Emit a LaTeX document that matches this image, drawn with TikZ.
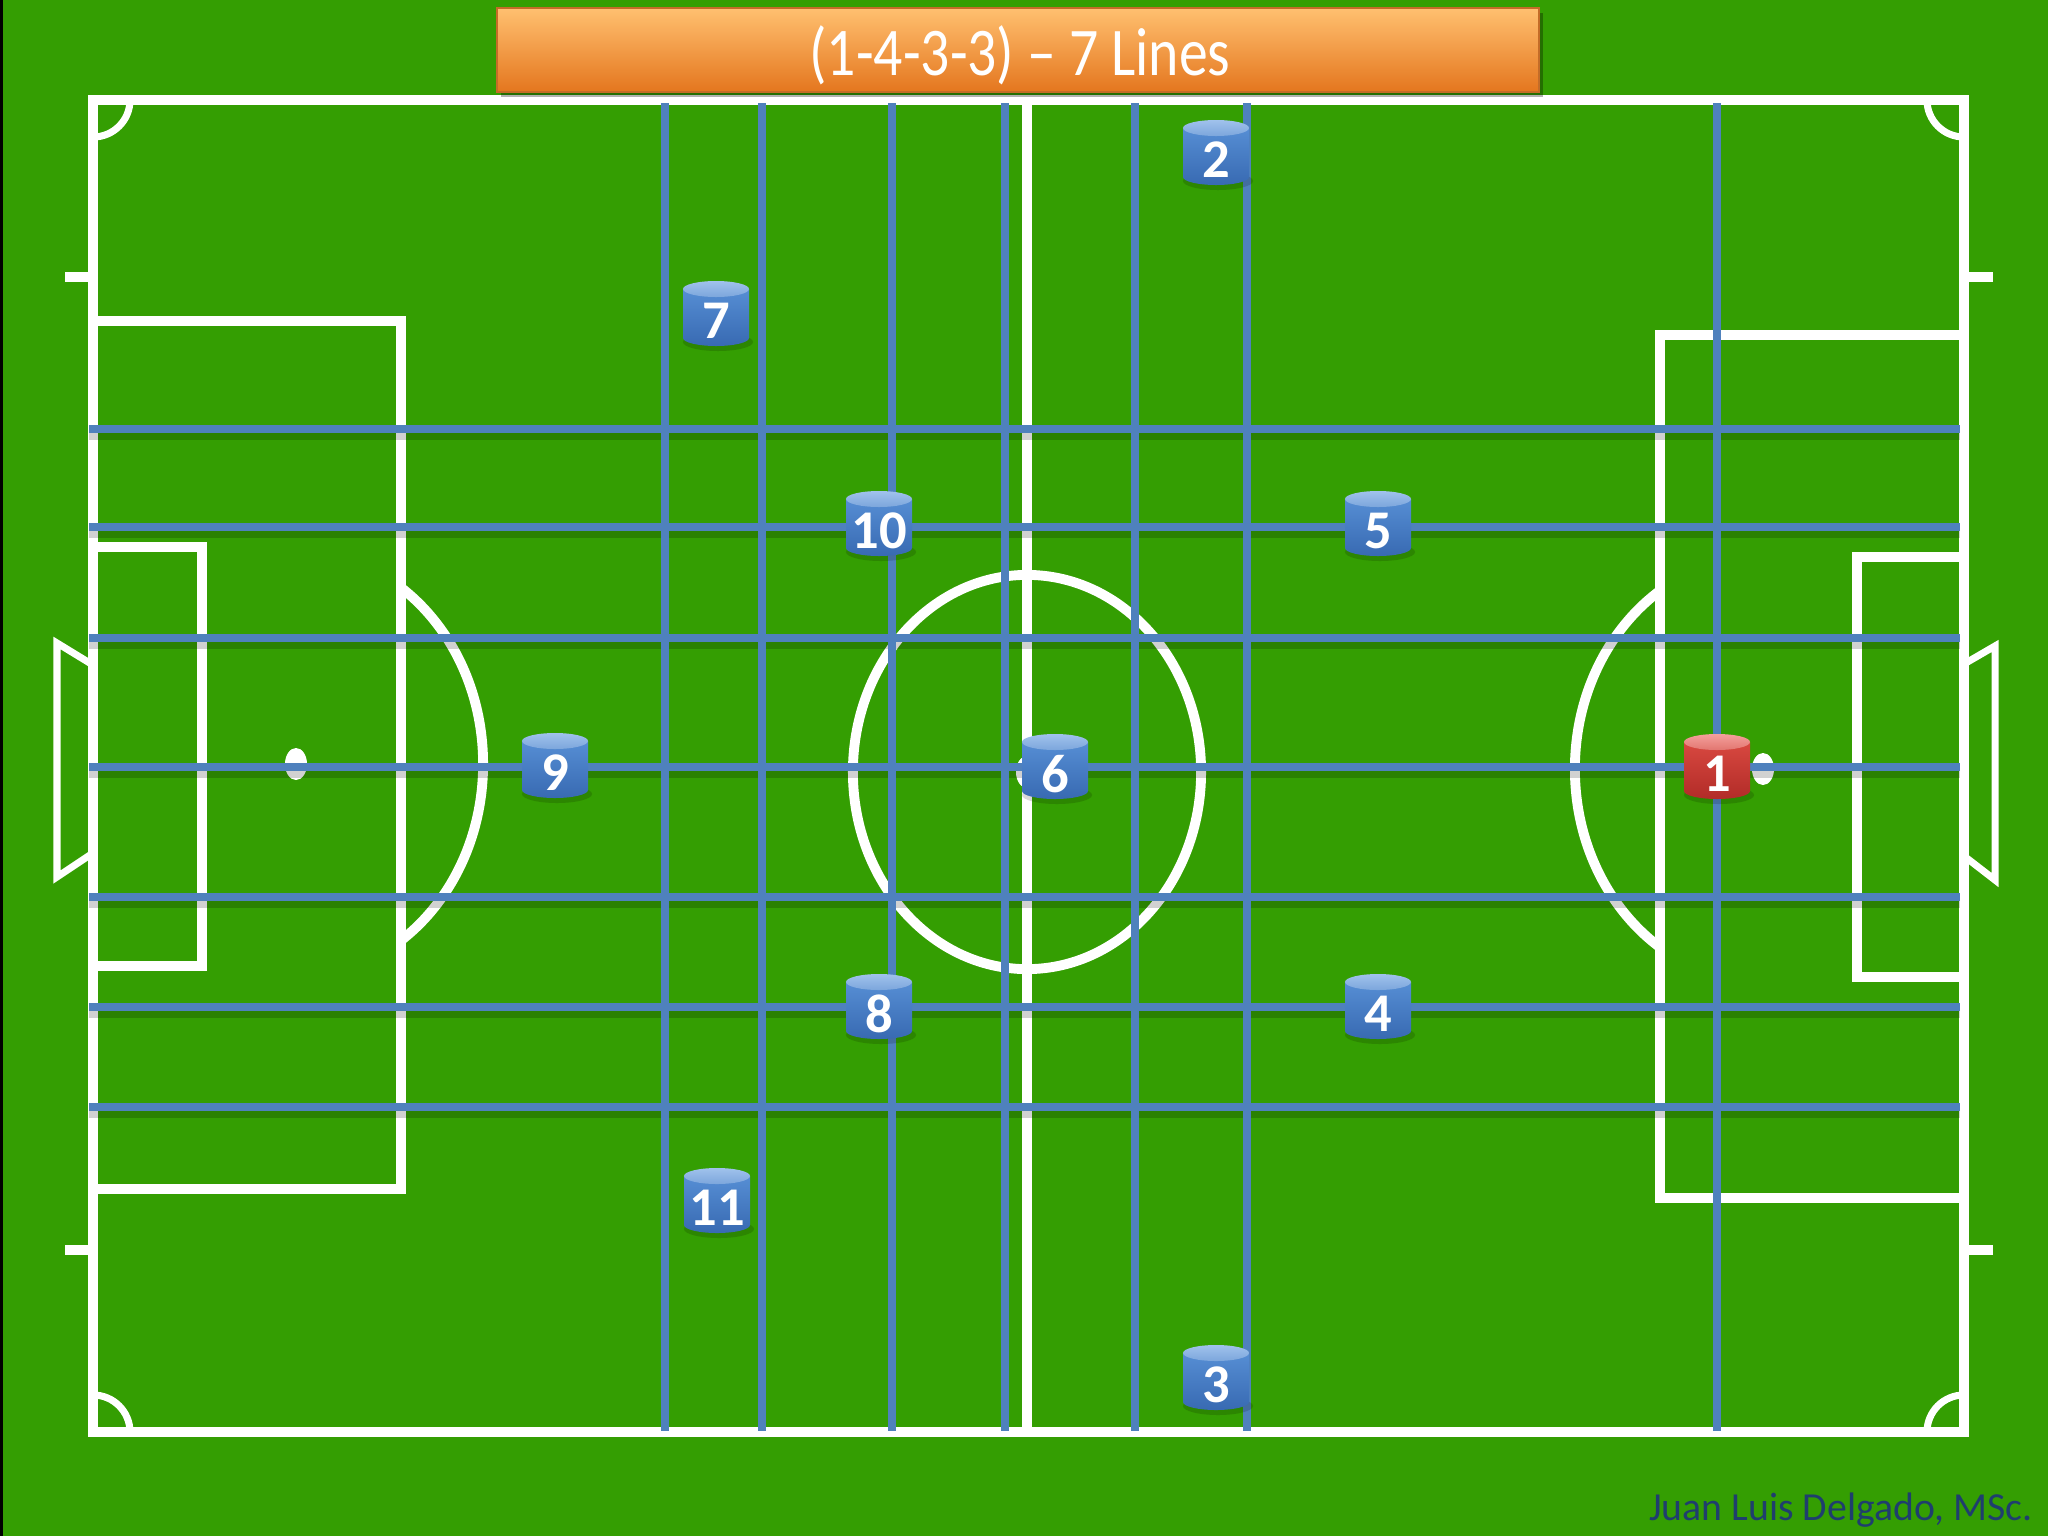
\documentclass[tikz,border=0pt]{standalone}
\usepackage{fontspec}
\setmainfont{Carlito}
\definecolor{pitch}{RGB}{52,158,2}
\definecolor{gridblue}{RGB}{79,129,189}
\definecolor{sigblue}{RGB}{31,62,110}
\definecolor{bbodya}{RGB}{86,142,212}
\definecolor{bbodyb}{RGB}{56,106,178}
\definecolor{bcapa}{RGB}{160,194,236}
\definecolor{bcapb}{RGB}{124,166,220}
\definecolor{rbodya}{RGB}{216,72,64}
\definecolor{rbodyb}{RGB}{178,44,40}
\definecolor{rcapa}{RGB}{244,160,156}
\definecolor{rcapb}{RGB}{226,118,112}
\definecolor{otop}{RGB}{255,192,112}
\definecolor{omid}{RGB}{250,150,55}
\definecolor{obot}{RGB}{228,118,30}
\definecolor{oborder}{RGB}{196,108,40}
\newcommand\playercyl[5]{%
  \fill[black,opacity=0.15] (#2+2,#3+22) ellipse[x radius=0.35cm,y radius=0.09cm];
  \shade[top color=#5bodya,bottom color=#5bodyb] (#2-33,#3-31) -- (#2-33,#3+18)
     arc[start angle=180,end angle=360,x radius=0.33cm,y radius=0.08cm] -- (#2+33,#3-31) -- cycle;
  \shade[top color=#5capa,bottom color=#5capb] (#2,#3-31) ellipse[x radius=0.33cm,y radius=0.08cm];
  \node[num] (#1) at (#2,#3+1) {#4};
}
\begin{document}
\begin{tikzpicture}[x=0.01cm,y=-0.01cm,
  fieldline/.style={draw=white,line width=2.8pt},
  thinline/.style={draw=white,line width=2pt},
  gridline/.style={draw=gridblue,line width=2.4pt},
  gridshadow/.style={draw=black,opacity=0.18,line width=3pt},
  num/.style={text=white,font=\fontsize{15.5}{15.5}\selectfont\bfseries,inner sep=0pt},
  titletext/.style={text=white,font=\fontsize{20}{20}\selectfont,inner sep=0pt},
  sigtext/.style={text=sigblue,font=\fontsize{11.3}{12}\selectfont,inner sep=0pt,anchor=base east}]
\useasboundingbox (0,0) rectangle (2048,1536);
\fill[pitch] (0,0) rectangle (2048,1536);
\fill[black] (0,0) rectangle (3,1536);

% ---- field markings
\draw[fieldline] (93,100) rectangle (1964,1432);
\draw[fieldline] (1027,100) -- (1027,1432);
\draw[fieldline] (1027,772) ellipse[x radius=1.74cm,y radius=1.97cm];
\fill[white] (1027,772) ellipse[x radius=0.11cm,y radius=0.16cm];
% left half
\draw[fieldline] (93,321) -- (401,321) -- (401,1189) -- (93,1189);
\draw[fieldline] (93,547) -- (202,547) -- (202,966) -- (93,966);
\fill[white] (296,764) ellipse[x radius=0.11cm,y radius=0.16cm];
\begin{scope}
  \clip (401,0) rectangle (700,1536);
  \draw[fieldline] (296,764) ellipse[x radius=1.87cm,y radius=2.13cm];
\end{scope}
\draw[thinline] (93,665) -- (57,643) -- (57,877) -- (93,853);
% right half
\draw[fieldline] (1964,335) -- (1660,335) -- (1660,1198) -- (1964,1198);
\draw[fieldline] (1964,557) -- (1857,557) -- (1857,977) -- (1964,977);
\fill[white] (1763,769) ellipse[x radius=0.11cm,y radius=0.16cm];
\begin{scope}
  \clip (1300,0) rectangle (1660,1536);
  \draw[fieldline] (1763,769) ellipse[x radius=1.88cm,y radius=2.13cm];
\end{scope}
\draw[thinline] (1964,664) -- (1995,646) -- (1995,880) -- (1964,856);
% side ticks
\draw[white,line width=3pt] (65,277) -- (93,277);
\draw[white,line width=3pt] (65,1250) -- (93,1250);
\draw[white,line width=3pt] (1964,277) -- (1993,277);
\draw[white,line width=3pt] (1964,1250) -- (1993,1250);
% corner arcs
\draw[thinline] (130,100) arc[start angle=0,end angle=-90,radius=0.37cm];
\draw[thinline] (1927,100) arc[start angle=180,end angle=270,radius=0.37cm];
\draw[thinline] (130,1432) arc[start angle=0,end angle=90,radius=0.37cm];
\draw[thinline] (1927,1432) arc[start angle=180,end angle=90,radius=0.37cm];

% ---- the 7 + 7 lines
\foreach \y in {429,527,638,767,897,1007,1107} {
  \draw[gridshadow] (89,\y+6) -- (1960,\y+6);
  \draw[gridline] (89,\y) -- (1960,\y);
}
\foreach \x in {665,762,892,1005,1135,1247,1717} {
  \draw[gridline] (\x,103) -- (\x,1431);
}

% ---- title
\fill[black,opacity=0.3] (501,13) rectangle (1543,97);
\shade[top color=otop,middle color=omid,bottom color=obot] (497,8) rectangle (1539,92);
\draw[oborder,line width=0.8pt] (497,8) rectangle (1539,92);
\node[titletext] (title) at (1020,55) {\scalebox{0.82}[0.97]{(1-4-3-3) -- 7 Lines}};

% ---- players
\playercyl{p2}{1216}{159}{2}{b}
\playercyl{p7}{716}{320}{7}{b}
\playercyl{p10}{879}{530}{10}{b}
\playercyl{p5}{1378}{530}{5}{b}
\playercyl{p9}{555}{772}{9}{b}
\playercyl{p6}{1055}{773}{6}{b}
\playercyl{p1}{1717}{773}{1}{r}
\playercyl{p8}{879}{1013}{8}{b}
\playercyl{p4}{1378}{1013}{4}{b}
\playercyl{p11}{717}{1207}{11}{b}
\playercyl{p3}{1216}{1384}{3}{b}

% ---- signature
\node[sigtext] (sig) at (2033,1520) {Juan Luis Delgado, MSc.};
\end{tikzpicture}
\end{document}
